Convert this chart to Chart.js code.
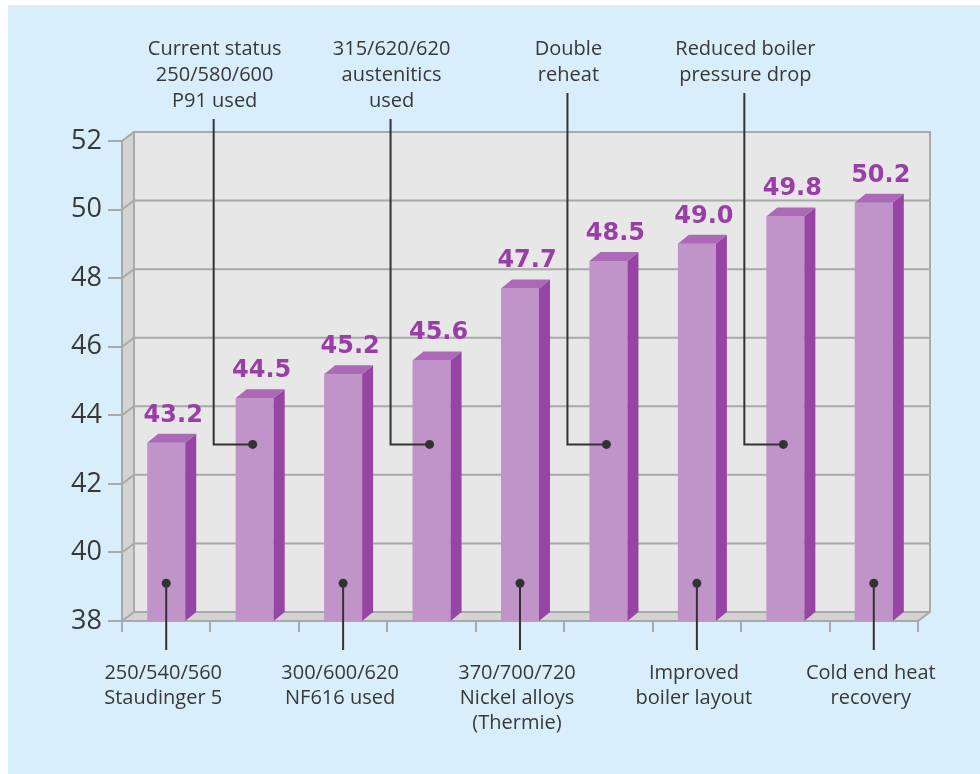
<!DOCTYPE html>
<html>
<head>
<meta charset="utf-8">
<script src="https://cdn.jsdelivr.net/npm/chart.js@4/dist/chart.umd.min.js"></script>
<style>
  html, body { margin: 0; padding: 0; background: #ffffff; }
  #wrap { width: 980px; height: 774px; }
</style>
</head>
<body>
<div id="wrap"><canvas id="chart" width="980" height="774"></canvas></div>
<script>
// Plant efficiency (%) for each successive improvement step
const categories = [
  '250/540/560 Staudinger 5',
  'Current status 250/580/600 P91 used',
  '300/600/620 NF616 used',
  '315/620/620 austenitics used',
  '370/700/720 Nickel alloys (Thermie)',
  'Double reheat',
  'Improved boiler layout',
  'Reduced boiler pressure drop',
  'Cold end heat recovery'
];
const efficiency = [43.2, 44.5, 45.2, 45.6, 47.7, 48.5, 49.0, 49.8, 50.2];
const yTicks = [38, 40, 42, 44, 46, 48, 50, 52];

// Callout text for each bar, and whether it sits below the axis or above the plot
const calloutLines = [
  ['250/540/560', 'Staudinger 5'],
  ['Current status', '250/580/600', 'P91 used'],
  ['300/600/620', 'NF616 used'],
  ['315/620/620', 'austenitics', 'used'],
  ['370/700/720', 'Nickel alloys', '(Thermie)'],
  ['Double', 'reheat'],
  ['Improved', 'boiler layout'],
  ['Reduced boiler', 'pressure drop'],
  ['Cold end heat', 'recovery']
];
const calloutSide = ['below', 'above', 'below', 'above', 'below', 'above', 'below', 'above', 'below'];
// Value levels where the callout dots sit on the bars
const dotLevelBelow = 39.1;
const dotLevelAbove = 43.15;

const W = 980, H = 774;
const PANEL_BG = '#D9EEFB';
const WALL_BACK = '#E7E7E7';
const WALL_SIDE = '#D3D3D3';
const WALL_LINE = '#A9A9A9';
const BAR_FRONT = '#C194C9';
const BAR_SIDE = '#9645A4';
const BAR_TOP = '#AB69B8';
const VALUE_COLOR = '#9A3EA7';
const TEXT_COLOR = '#383838';
const LEADER = '#333333';

// depth offsets for the box walls and for the bars
const DX = 12, DY = -9;
const BDX = 11, BDY = -9;

const box3d = {
  id: 'box3d',
  beforeDraw(chart) {
    const ctx = chart.ctx;
    const { left: L, right: R, top: T, bottom: B } = chart.chartArea;
    const y = chart.scales.y;
    ctx.save();
    ctx.fillStyle = '#ffffff';
    ctx.fillRect(0, 0, W, H);
    ctx.fillStyle = PANEL_BG;
    ctx.fillRect(8, 5, W - 8, H - 5);

    // back wall
    ctx.fillStyle = WALL_BACK;
    ctx.fillRect(L + DX, T + DY, R - L, B - T);
    // left side wall
    ctx.fillStyle = WALL_SIDE;
    ctx.beginPath();
    ctx.moveTo(L, T); ctx.lineTo(L + DX, T + DY); ctx.lineTo(L + DX, B + DY); ctx.lineTo(L, B);
    ctx.closePath(); ctx.fill();
    // floor
    ctx.beginPath();
    ctx.moveTo(L, B); ctx.lineTo(L + DX, B + DY); ctx.lineTo(R + DX, B + DY); ctx.lineTo(R, B);
    ctx.closePath(); ctx.fill();

    ctx.strokeStyle = WALL_LINE;
    ctx.lineWidth = 2;
    // grid lines on the back wall and the side wall
    yTicks.forEach(v => {
      const py = y.getPixelForValue(v);
      ctx.beginPath();
      ctx.moveTo(L, py); ctx.lineTo(L + DX, py + DY); ctx.lineTo(R + DX, py + DY);
      ctx.stroke();
    });
    // outlines
    ctx.beginPath();
    ctx.moveTo(L + DX, B + DY); ctx.lineTo(L + DX, T + DY); ctx.lineTo(R + DX, T + DY); ctx.lineTo(R + DX, B + DY);
    ctx.lineTo(R, B);
    ctx.stroke();
    ctx.restore();
  },
  afterDatasetsDraw(chart) {
    const ctx = chart.ctx;
    const meta = chart.getDatasetMeta(0);
    const base = chart.scales.y.getPixelForValue(chart.scales.y.min);
    ctx.save();
    meta.data.forEach(el => {
      const x = el.x, y = el.y, width = el.width;
      const l = x - width / 2, r = x + width / 2;
      // side face
      ctx.fillStyle = BAR_SIDE;
      ctx.beginPath();
      ctx.moveTo(r, y); ctx.lineTo(r + BDX, y + BDY); ctx.lineTo(r + BDX, base + BDY); ctx.lineTo(r, base);
      ctx.closePath(); ctx.fill();
      // top face
      ctx.fillStyle = BAR_TOP;
      ctx.beginPath();
      ctx.moveTo(l, y); ctx.lineTo(r, y); ctx.lineTo(r + BDX, y + BDY); ctx.lineTo(l + BDX, y + BDY);
      ctx.closePath(); ctx.fill();
    });
    ctx.restore();
  },
  afterDraw(chart) {
    const ctx = chart.ctx;
    const meta = chart.getDatasetMeta(0);
    const yS = chart.scales.y;
    ctx.save();
    // value labels
    ctx.font = 'bold 24px "DejaVu Sans"';
    ctx.fillStyle = VALUE_COLOR;
    ctx.textAlign = 'center';
    ctx.textBaseline = 'alphabetic';
    meta.data.forEach((el, i) => {
      ctx.fillText(efficiency[i].toFixed(1), el.x + 7, el.y + BDY - 12);
    });

    // callouts
    ctx.strokeStyle = LEADER;
    ctx.fillStyle = LEADER;
    ctx.lineWidth = 2;
    ctx.font = '20px "Open Sans"';
    ctx.textBaseline = 'middle';
    meta.data.forEach((el, i) => {
      const lines = calloutLines[i];
      if (calloutSide[i] === 'below') {
        const dx = el.x;
        const dy = yS.getPixelForValue(dotLevelBelow);
        ctx.beginPath(); ctx.moveTo(dx, dy); ctx.lineTo(dx, 650); ctx.stroke();
        ctx.beginPath(); ctx.arc(dx, dy, 4.5, 0, Math.PI * 2); ctx.fill();
        ctx.fillStyle = TEXT_COLOR;
        lines.forEach((t, k) => ctx.fillText(t, dx - 3, 673 + k * 25));
        ctx.fillStyle = LEADER;
      } else {
        const dx = el.x - 2;
        const dy = yS.getPixelForValue(dotLevelAbove);
        const lx = el.x - 41;
        const topY = 49 + (lines.length - 1) * 26 + 18;
        ctx.beginPath(); ctx.moveTo(lx, topY); ctx.lineTo(lx, dy); ctx.lineTo(dx, dy); ctx.stroke();
        ctx.beginPath(); ctx.arc(dx, dy, 4.5, 0, Math.PI * 2); ctx.fill();
        ctx.fillStyle = TEXT_COLOR;
        lines.forEach((t, k) => ctx.fillText(t, lx + 1, 49 + k * 26));
        ctx.fillStyle = LEADER;
      }
    });
    ctx.restore();
  }
};

new Chart(document.getElementById('chart'), {
  type: 'bar',
  data: {
    labels: categories,
    datasets: [{
      data: efficiency,
      backgroundColor: BAR_FRONT,
      borderWidth: 0,
      barPercentage: 0.43,
      categoryPercentage: 1.0
    }]
  },
  options: {
    responsive: false,
    devicePixelRatio: 1,
    animation: false,
    events: [],
    layout: { padding: { left: 0, right: 62, top: 141, bottom: 133 } },
    plugins: { legend: { display: false }, tooltip: { enabled: false } },
    scales: {
      x: {
        offset: true,
        grid: { display: true, drawOnChartArea: false, drawTicks: true, tickLength: 11, color: WALL_LINE, lineWidth: 2, offset: true },
        border: { display: true, color: WALL_LINE, width: 2 },
        ticks: { display: false },
        afterFit(scale) { scale.height = 20; }
      },
      y: {
        min: 38,
        max: 52,
        afterBuildTicks(scale) { scale.ticks = yTicks.map(v => ({ value: v })); },
        grid: { display: true, drawOnChartArea: false, drawTicks: true, tickLength: 14, color: WALL_LINE, lineWidth: 2 },
        border: { display: true, color: WALL_LINE, width: 2 },
        ticks: {
          color: TEXT_COLOR,
          padding: 6,
          font: { family: '"Open Sans"', size: 27 }
        },
        afterFit(scale) { scale.width = 122; }
      }
    }
  },
  plugins: [box3d]
});
</script>
</body>
</html>
